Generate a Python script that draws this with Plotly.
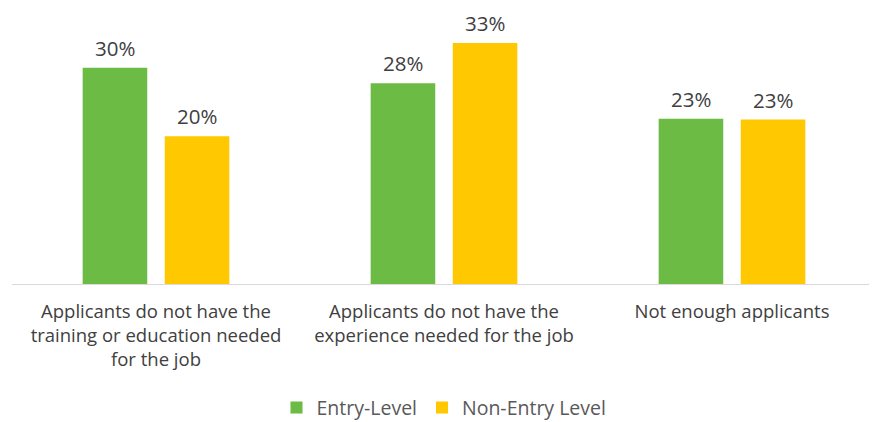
import plotly.graph_objects as go

categories = [
    "Applicants do not have the<br>training or education needed<br>for the job",
    "Applicants do not have the<br>experience needed for the job",
    "Not enough applicants",
]
series_names = ["Entry-Level", "Non-Entry Level"]
entry_level = [29.7, 27.6, 22.7]
non_entry_level = [20.3, 33.1, 22.6]
entry_labels = ["30%", "28%", "23%"]
non_entry_labels = ["20%", "33%", "23%"]

colors = ["#6CBB45", "#FFC800"]
text_color = "#404040"
font_family = "'Open Sans', Roboto, 'Liberation Sans', Arial, sans-serif"

BARGAP = 0.43
BARGROUPGAP = 0.213

fig = go.Figure()
series = [
    (series_names[0], entry_level, entry_labels, colors[0], -1),
    (series_names[1], non_entry_level, non_entry_labels, colors[1], 1),
]
for name, vals, labels, col, side in series:
    fig.add_trace(go.Bar(
        x=categories, y=vals, name=name, marker_color=col,
        marker_line_width=0,
    ))

# page body has 8px margin in the browser; figure sized to compensate
W, H = 869, 414
ML, MR, MT, MB = 4, 1, 2, 138
plot_w = W - ML - MR
cat_px = plot_w / len(categories)
slot_px = cat_px * (1 - BARGAP) / 2

for name, vals, labels, col, side in series:
    for c, v, lab in zip(categories, vals, labels):
        fig.add_annotation(
            x=c, y=v, text=lab, showarrow=False,
            xshift=side * slot_px / 2, yshift=5, yanchor="bottom",
            borderpad=0,
            font=dict(size=20.5, color=text_color, family=font_family),
        )

fig.update_layout(
    width=W, height=H,
    margin=dict(l=ML, r=MR, t=MT, b=MB, autoexpand=False),
    plot_bgcolor="white", paper_bgcolor="white",
    barmode="group", bargap=BARGAP, bargroupgap=BARGROUPGAP,
    font=dict(family=font_family, color=text_color),
    showlegend=True,
    legend=dict(
        orientation="h", x=0.5, xanchor="center", y=-0.452, yanchor="middle",
        font=dict(size=19.5, color="#595959", family=font_family),
        traceorder="normal",
    ),
    xaxis=dict(
        showline=True, linecolor="#D9D9D9", linewidth=1,
        showgrid=False, ticks="", ticklabelstandoff=11,
        tickfont=dict(size=18.5, color="#404040", family=font_family),
    ),
    yaxis=dict(range=[0, 37.65], visible=False, showgrid=False),
)

fig.write_html("out.html")
